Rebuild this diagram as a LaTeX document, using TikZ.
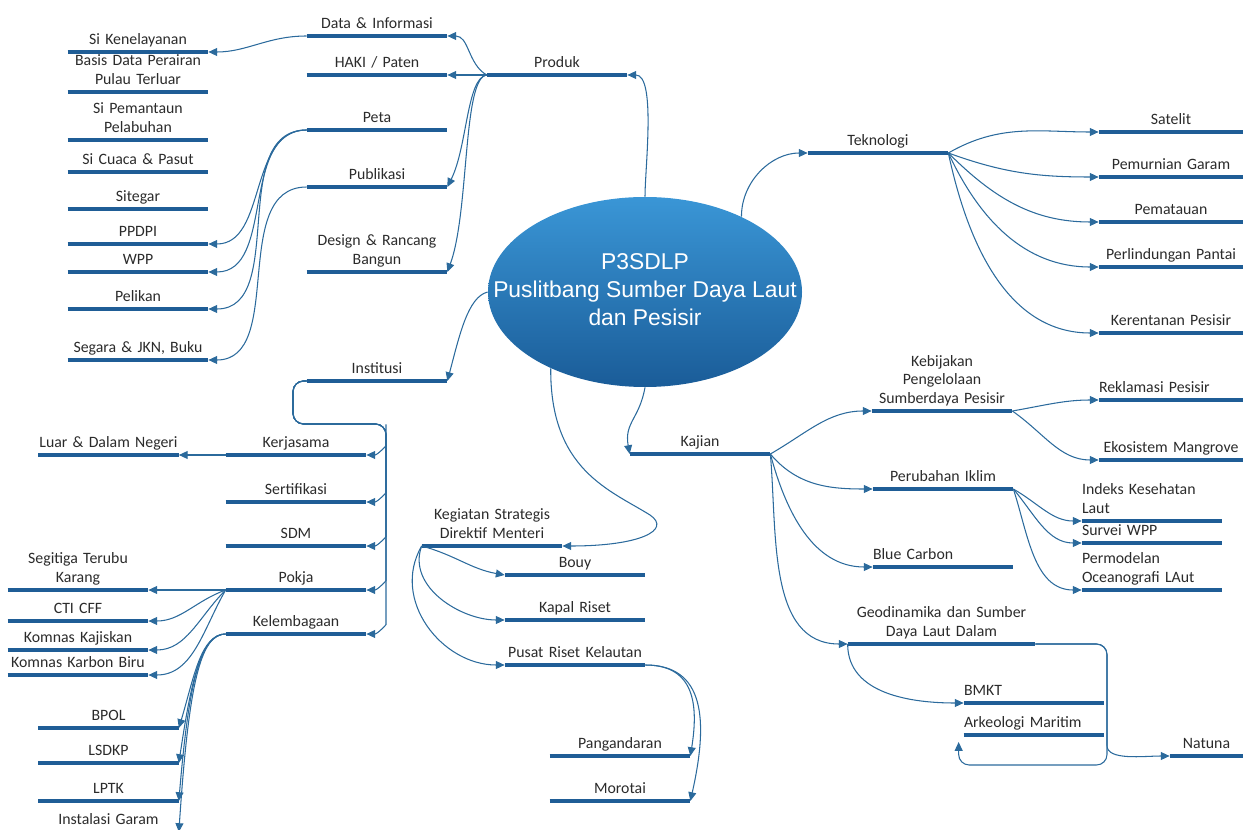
\documentclass[tikz,border=0pt]{standalone}
\usepackage{fontspec}
\setmainfont{Carlito}
\newfontfamily\hubfont{Liberation Sans}
\usetikzlibrary{arrows.meta,shapes.geometric}

\definecolor{barblue}{HTML}{1F5D96}
\definecolor{lineblue}{HTML}{2B6A9C}
\definecolor{hubtop}{HTML}{3A96D6}
\definecolor{hubbot}{HTML}{1A5C98}
\definecolor{labelgray}{HTML}{2B2B2B}

\tikzset{
  bar/.style={draw=barblue, line width=2.4pt},
  link/.style={draw=lineblue, line width=0.6pt, -{Triangle[length=5pt,width=4.5pt]}},
  topic/.style={anchor=south, inner xsep=0pt, inner ysep=1pt,
    text width=#1, align=center, text=labelgray,
    font=\fontsize{9}{10.5}\selectfont, execute at end node=\strut,
    append after command={\pgfextra{\draw[bar] (\tikzlastnode.south west) -- (\tikzlastnode.south east);}}},
  topic/.default=28mm,
  ltopic/.style={topic=#1, align=left},
  ltopic/.default=28mm,
  hub/.style={ellipse, minimum width=62.8mm, minimum height=38mm, inner sep=0pt,
    top color=hubtop, bottom color=hubbot, text=white,
    font=\hubfont\fontsize{13}{16}\selectfont},
}

\begin{document}
\begin{tikzpicture}[x=0.2mm,y=0.2mm]
\useasboundingbox (0,0) rectangle (1243,-830);

%% centre
\node[hub] at (645,-292) (hub)
  {\makebox[0pt]{\begin{tabular}{@{}c@{}}P3SDLP\\Puslitbang Sumber Daya Laut\\dan Pesisir\end{tabular}}};

%% produk
\node[topic] at (557,-75) (produk) {Produk};
\node[topic] at (377,-36) (datainfo) {Data \& Informasi};
\node[topic] at (377,-75) (haki) {HAKI / Paten};
\node[topic] at (377,-130) (peta) {Peta};
\node[topic] at (377,-187) (publikasi) {Publikasi};
\node[topic] at (377,-272) (design) {Design \& Rancang\\Bangun};

%% produk leaves
\node[topic] at (138,-52) (kenelayanan) {Si Kenelayanan};
\node[topic] at (138,-92) (basisdata) {Basis Data Perairan\\Pulau Terluar};
\node[topic] at (138,-140) (pemantau) {Si Pemantaun\\Pelabuhan};
\node[topic] at (138,-172) (cuaca) {Si Cuaca \& Pasut};
\node[topic] at (138,-209) (sitegar) {Sitegar};
\node[topic] at (138,-244) (ppdpi) {PPDPI};
\node[topic] at (138,-272) (wpp) {WPP};
\node[topic] at (138,-309) (pelikan) {Pelikan};
\node[topic] at (138,-360) (segara) {Segara \& JKN, Buku};

%% teknologi
\node[topic] at (878,-153) (teknologi) {Teknologi};
\node[topic=28.8mm] at (1171,-132) (satelit) {Satelit};
\node[topic=28.8mm] at (1171,-177) (pemurnian) {Pemurnian Garam};
\node[topic=28.8mm] at (1171,-222) (pematauan) {Pematauan};
\node[topic=28.8mm] at (1171,-267) (perlindungan) {Perlindungan Pantai};
\node[topic=28.8mm] at (1171,-333) (kerentanan) {Kerentanan Pesisir};

%% kajian
\node[topic] at (700,-454) (kajian) {Kajian};
\node[topic] at (942,-411) (kebijakan) {Kebijakan\\Pengelolaan\\Sumberdaya Pesisir};
\node[ltopic=28.8mm] at (1171,-400) (reklamasi) {Reklamasi Pesisir};
\node[topic=28.8mm] at (1171,-460) (mangrove) {Ekosistem Mangrove};
\node[topic] at (943,-489) (iklim) {Perubahan Iklim};
\node[ltopic] at (1152,-521) (indeks) {Indeks Kesehatan\\Laut};
\node[ltopic] at (1152,-543) (survei) {Survei WPP};
\node[ltopic] at (1152,-590) (permodelan) {Permodelan\\Oceanografi LAut};
\node[ltopic] at (943,-567) (bluecarbon) {Blue Carbon};
\node[topic=37.4mm] at (941.5,-644) (geodinamika) {Geodinamika dan Sumber\\Daya Laut Dalam};
\node[ltopic] at (1034,-703) (bmkt) {BMKT};
\node[ltopic] at (1034,-735) (arkeologi) {Arkeologi Maritim};
\node[topic=14.6mm] at (1206.5,-756) (natuna) {Natuna};

%% institusi
\node[topic] at (377,-381) (institusi) {Institusi};
\node[topic] at (296,-455) (kerjasama) {Kerjasama};
\node[topic] at (296,-502) (sertifikasi) {Sertifikasi};
\node[topic] at (296,-546) (sdm) {SDM};
\node[topic] at (296,-590) (pokja) {Pokja};
\node[topic] at (296,-634) (kelembagaan) {Kelembagaan};
\node[topic] at (108.5,-455) (luardalam) {Luar \& Dalam Negeri};
\node[topic] at (78,-590) (segitiga) {Segitiga Terubu\\Karang};
\node[topic] at (78,-621) (cticff) {CTI CFF};
\node[topic] at (78,-650) (kajiskan) {Komnas Kajiskan};
\node[topic] at (78,-675) (karbonbiru) {Komnas Karbon Biru};
\node[topic] at (108.5,-728) (bpol) {BPOL};
\node[topic] at (108.5,-763) (lsdkp) {LSDKP};
\node[topic] at (108.5,-801) (lptk) {LPTK};
\node[topic] at (108.5,-832) (garam) {Instalasi Garam};

%% kegiatan strategis
\node[topic] at (492,-546) (kegiatan) {Kegiatan Strategis\\Direktif Menteri};
\node[topic] at (575,-575) (bouy) {Bouy};
\node[topic] at (575,-620) (kapal) {Kapal Riset};
\node[topic] at (575,-665) (pusatriset) {Pusat Riset Kelautan};
\node[topic] at (620,-756) (pangandaran) {Pangandaran};
\node[topic] at (620,-801) (morotai) {Morotai};

%% centre to main topics
\draw[link] (hub.north) to[out=90,in=0,looseness=0.6] (produk.south east);
\draw[link] (hub.38) to[out=90,in=180] (teknologi.south west);
\draw[link] (hub.west) .. controls +(-20,-5) and +(12,45) .. (institusi.south east);
\draw[link] (hub.south) to[out=-100,in=100,looseness=1.2] (kajian.south west);
\draw[link] (hub.219) .. controls (550,-470) and (610,-490) .. (650,-515)
  .. controls (672,-530) and (640,-546) .. (kegiatan.south east);

%% produk edges
\draw[link] (produk.south west) to[out=150,in=0] (datainfo.south east);
\draw[link] (produk.south west) -- (haki.south east);
\draw[link] (produk.south west) .. controls +(-20,-3) and +(20,40) .. (publikasi.south east);
\draw[link] (produk.south west) .. controls +(-24,-3) and +(22,60) .. (design.south east);
\draw[link] (datainfo.south west) to[out=180,in=0] (kenelayanan.south east);
\draw[link] (peta.south west) to[out=180,in=0] (ppdpi.south east);
\draw[link] (peta.south west) to[out=180,in=0] (wpp.south east);
\draw[link] (peta.south west) to[out=180,in=0] (pelikan.south east);
\draw[link] (publikasi.south west) to[out=180,in=0] (segara.south east);

%% teknologi edges
\draw[link] (teknologi.south east) to[out=30,in=180] (satelit.south west);
\draw[link] (teknologi.south east) to[out=-20,in=180] (pemurnian.south west);
\draw[link] (teknologi.south east) to[out=-45,in=180] (pematauan.south west);
\draw[link] (teknologi.south east) to[out=-65,in=180] (perlindungan.south west);
\draw[link] (teknologi.south east) to[out=-78,in=180] (kerentanan.south west);

%% kajian edges
\draw[link] (kajian.south east) to[out=30,in=180] (kebijakan.south west);
\draw[link] (kajian.south east) to[out=-50,in=180] (iklim.south west);
\draw[link] (kajian.south east) to[out=-75,in=180] (bluecarbon.south west);
\draw[link] (kajian.south east) to[out=-85,in=180] (geodinamika.south west);
\draw[link] (kebijakan.south east) to[out=10,in=180] (reklamasi.south west);
\draw[link] (kebijakan.south east) to[out=-35,in=180] (mangrove.south west);
\draw[link] (iklim.south east) to[out=-30,in=180] (indeks.south west);
\draw[link] (iklim.south east) to[out=-50,in=180] (survei.south west);
\draw[link] (iklim.south east) to[out=-72,in=180] (permodelan.south west);
\draw[link] (geodinamika.south west) to[out=-90,in=180] (bmkt.south west);
\draw[link, rounded corners=6pt] (geodinamika.south east) -| (1107,-765)
  -| ([shift={(-5,-7)}]arkeologi.south west);
\draw[link, rounded corners=6pt] (geodinamika.south east) -| (1107,-735)
  to[out=-90,in=180] (natuna.south west);

%% institusi edges
\draw[link, rounded corners=6pt] (institusi.south west) -| (293,-424) -| (386,-435)
  to[out=-90,in=0] (kerjasama.south east);
\draw[link, rounded corners=6pt] (institusi.south west) -| (293,-424) -| (386,-482)
  to[out=-90,in=0] (sertifikasi.south east);
\draw[link, rounded corners=6pt] (institusi.south west) -| (293,-424) -| (386,-526)
  to[out=-90,in=0] (sdm.south east);
\draw[link, rounded corners=6pt] (institusi.south west) -| (293,-424) -| (386,-570)
  to[out=-90,in=0] (pokja.south east);
\draw[link, rounded corners=6pt] (institusi.south west) -| (293,-424) -| (386,-614)
  to[out=-90,in=0] (kelembagaan.south east);
\draw[link] (kerjasama.south west) -- (luardalam.south east);
\draw[link] (pokja.south west) -- (segitiga.south east);
\draw[link] (pokja.south west) to[out=200,in=0] (cticff.south east);
\draw[link] (pokja.south west) to[out=225,in=0] (kajiskan.south east);
\draw[link] (pokja.south west) to[out=240,in=0] (karbonbiru.south east);
\draw[link] (kelembagaan.south west) .. controls +(-25,0) and +(15,50) .. (bpol.south east);
\draw[link] (kelembagaan.south west) .. controls +(-25,0) and +(12,80) .. (lsdkp.south east);
\draw[link] (kelembagaan.south west) .. controls +(-25,0) and +(10,120) .. (lptk.south east);
\draw[link] (kelembagaan.south west) .. controls +(-25,0) and +(10,150) .. (garam.south east);

%% kegiatan edges
\draw[link] (kegiatan.south west) to[out=-15,in=170] (bouy.south west);
\draw[link] (kegiatan.south west) to[out=-110,in=180] (kapal.south west);
\draw[link] (kegiatan.south west) to[out=-120,in=180,looseness=1.1] (pusatriset.south west);
\draw[link] (pusatriset.south east) .. controls +(50,0) and +(8,50) .. (pangandaran.south east);
\draw[link] (pusatriset.south east) .. controls +(60,0) and +(18,80) .. (morotai.south east);
\end{tikzpicture}
\end{document}
